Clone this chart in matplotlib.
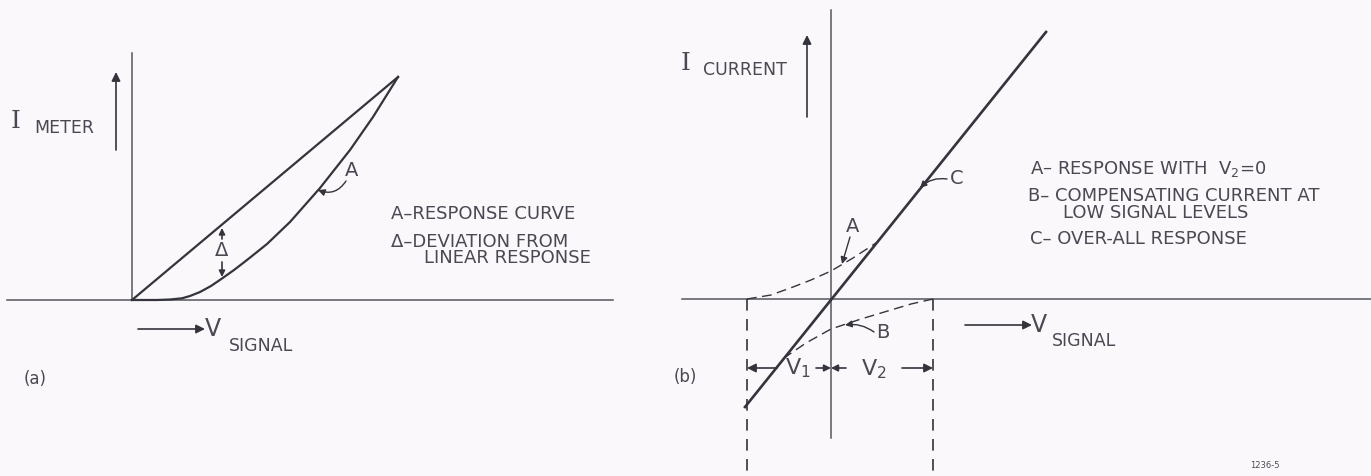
import matplotlib
matplotlib.use('Agg')
from matplotlib import pyplot as plt

# panel (a): meter current against signal voltage, diagram units, origin at the axes crossing
v_a_linear = [0, 266]
i_a_linear = [0, 223]
v_a_response = [0, 25, 38, 50, 58, 68, 79, 90, 102, 115, 135, 158, 188, 218, 241, 266]
i_a_response = [0, 0, 0.5, 1.7, 4, 8, 14, 21.5, 30, 40, 56, 78, 112, 150, 183, 223]

# panel (b): over-all response and the two dashed partial curves
v_b_overall = [-86, 215]
i_b_overall = [-108, 267]
v_b_curve_a = [-84, -60, -38, -20, 0, 22, 45]
i_b_curve_a = [0, 4, 12, 19, 28, 41, 56]
v_b_curve_b = [102, 80, 60, 30, 0, -25, -47]
i_b_curve_b = [0, -5, -11, -20, -30, -44, -59]
v1_edge = -84
v2_edge = 102

LINE = '#34343c'
AXIS = '#55555e'
TEXT = '#4a4852'
BG = '#fbf8fb'


def arrow(ax, tail, tip, lw=1.2, scale=13):
    ax.annotate('', xy=tip, xytext=tail,
                arrowprops=dict(arrowstyle='-|>', color=LINE, lw=lw,
                                mutation_scale=scale, shrinkA=0, shrinkB=0))


def label(ax, x, y, s, size=13, ha='left', family='DejaVu Sans'):
    ax.text(x, y, s, fontsize=size, color=TEXT, ha=ha, va='center', family=family)


fig = plt.figure(figsize=(13.71, 4.76), dpi=100, facecolor=BG)

# ---------- panel (a)
ax = fig.add_axes([0, 0, 620 / 1371, 1])
ax.set_xlim(-132, 488)
ax.set_ylim(-176, 300)
ax.axis('off')
ax.plot([-125, 481], [0, 0], color=AXIS, lw=1.1)
ax.plot([0, 0], [0, 247], color=AXIS, lw=1.1)
ax.plot(v_a_linear, i_a_linear, color=LINE, lw=1.6)
ax.plot(v_a_response, i_a_response, color=LINE, lw=1.6)

arrow(ax, (-16, 150), (-16, 228))
label(ax, -121, 178, 'I', size=18, family='DejaVu Serif')
label(ax, -98, 172, 'METER', size=12.5)

arrow(ax, (6, -29), (73, -29))
label(ax, 73, -29, 'V', size=17)
label(ax, 97, -46, 'SIGNAL', size=12.5)

label(ax, 220, 130, 'A', size=14, ha='center')
ax.annotate('', xy=(186, 110), xytext=(214, 119),
            arrowprops=dict(arrowstyle='-|>', color=LINE, lw=1.0, mutation_scale=10,
                            shrinkA=0, shrinkB=0, connectionstyle='arc3,rad=-0.4'))

label(ax, 90, 50, 'Δ', size=14, ha='center')
arrow(ax, (90, 61), (90, 72), scale=9)
arrow(ax, (90, 38), (90, 23), scale=9)

label(ax, 259, 86, 'A–RESPONSE CURVE')
label(ax, 259, 58, 'Δ–DEVIATION FROM')
label(ax, 292, 42, 'LINEAR RESPONSE')
label(ax, -108, -79, '(a)', size=12)

# ---------- panel (b)
bx = fig.add_axes([620 / 1371, 0, 751 / 1371, 1])
bx.set_xlim(-211, 540)
bx.set_ylim(-177, 299)
bx.axis('off')
bx.plot([-149, 540], [0, 0], color=AXIS, lw=1.1)
bx.plot([0, 0], [-139, 289], color=AXIS, lw=1.1)
bx.plot(v_b_overall, i_b_overall, color=LINE, lw=1.9)
bx.plot(v_b_curve_a, i_b_curve_a, color=LINE, lw=1.0, dashes=(7, 4))
bx.plot(v_b_curve_b, i_b_curve_b, color=LINE, lw=1.0, dashes=(7, 4))
for edge in (v1_edge, v2_edge):
    bx.plot([edge, edge], [0, -177], color=LINE, lw=1.2, dashes=(7, 5))

arrow(bx, (-24, 182), (-24, 264))
label(bx, -150, 236, 'I', size=18, family='DejaVu Serif')
label(bx, -128, 229, 'CURRENT', size=12.5)

arrow(bx, (134, -26), (201, -26))
label(bx, 200, -26, 'V', size=17)
label(bx, 221, -42, 'SIGNAL', size=12.5)

label(bx, 126, 121, 'C', size=14, ha='center')
bx.annotate('', xy=(89, 111), xytext=(116, 120),
            arrowprops=dict(arrowstyle='-|>', color=LINE, lw=1.0, mutation_scale=10,
                            shrinkA=0, shrinkB=0, connectionstyle='arc3,rad=0.25'))
label(bx, 22, 73, 'A', size=14, ha='center')
arrow(bx, (19, 62), (11, 35), lw=1.0, scale=10)
label(bx, 52, -34, 'B', size=14, ha='center')
bx.annotate('', xy=(14, -26), xytext=(43, -33),
            arrowprops=dict(arrowstyle='-|>', color=LINE, lw=1.0, mutation_scale=10,
                            shrinkA=0, shrinkB=0, connectionstyle='arc3,rad=0.2'))

arrow(bx, (-54, -69), (v1_edge, -69))
label(bx, -33, -69, 'V$_{1}$', size=16, ha='center')
arrow(bx, (-15, -69), (0, -69), scale=10)
arrow(bx, (15, -69), (0, -69), scale=10)
label(bx, 43, -70, 'V$_{2}$', size=16, ha='center')
arrow(bx, (71, -69), (v2_edge, -69))

label(bx, 199, 130, 'A– RESPONSE WITH  V$_{2}$=0')
label(bx, 197, 103, 'B– COMPENSATING CURRENT AT')
label(bx, 232, 86, 'LOW SIGNAL LEVELS')
label(bx, 199, 60, 'C– OVER-ALL RESPONSE')
label(bx, -157, -78, '(b)', size=12)
label(bx, 419, -166, '1236-5', size=6)

fig.savefig('out.png', dpi=100, facecolor=BG)
